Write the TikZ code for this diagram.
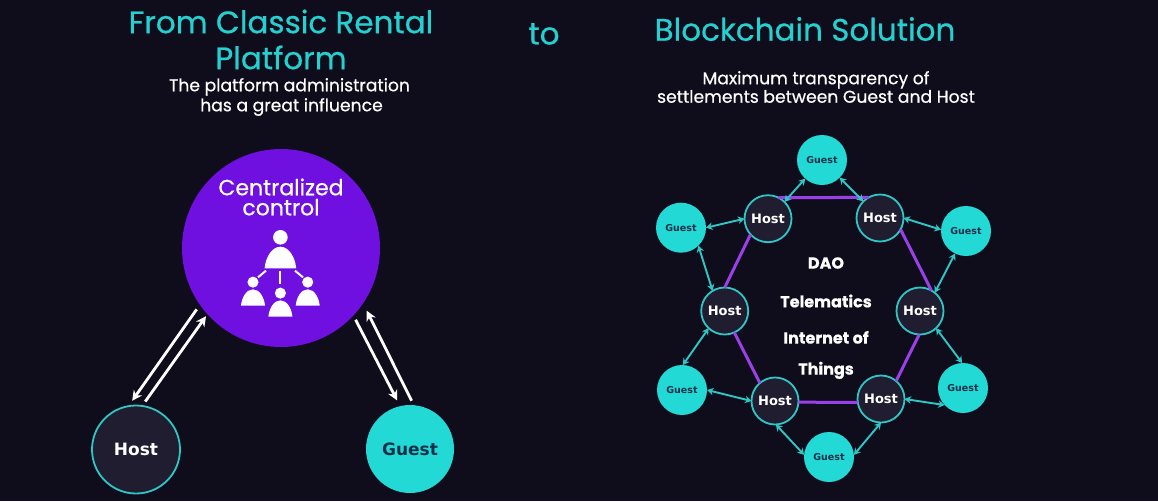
\documentclass[tikz,border=0pt]{standalone}
\usepackage{fontspec}
\setmainfont{Poppins}[FakeBold=0.6]
\newfontfamily\labelfont{DejaVu Sans}
\usetikzlibrary{arrows.meta,calc,positioning}
\definecolor{bgdark}{HTML}{0F0C1B}
\definecolor{tealtxt}{HTML}{24D0D0}
\definecolor{tealfill}{HTML}{22D9D6}
\definecolor{tealline}{HTML}{2FC6C6}
\definecolor{hostfill}{HTML}{211D30}
\definecolor{guesttxt}{HTML}{123048}
\definecolor{ctrlfill}{HTML}{6F0FE0}
\definecolor{linkpurple}{HTML}{9B3FE8}
\tikzset{
  titletxt/.style={text=tealtxt,font=\fontsize{31}{36}\selectfont,align=center,inner sep=0},
  subtxt/.style={text=white,font=\fontsize{17.2}{20}\selectfont,align=center,inner sep=0},
  daotxt/.style={text=white,font=\fontsize{16}{31}\selectfont\bfseries,align=center,inner sep=0},
  hostnode/.style={circle,draw=tealline,fill=hostfill,line width=1.8pt,minimum size=47pt,inner sep=0,outer sep=0,
    text=white,font=\labelfont\fontsize{13}{15}\selectfont\bfseries},
  guestnode/.style={circle,fill=tealfill,minimum size=50pt,inner sep=0,outer sep=0,
    text=guesttxt,font=\labelfont\fontsize{9.5}{11}\selectfont\bfseries},
  bigarrow/.style={white,line width=2.8pt,-{Stealth[length=10pt,width=10pt]}},
  smallarrow/.style={tealline,line width=1.9pt,{Stealth[length=6.5pt,width=7.5pt]}-{Stealth[length=6.5pt,width=7.5pt]}},
  hexlink/.style={linkpurple,line width=3pt}
}
\newcommand{\drawperson}[3]{%
  \begin{scope}[shift={(#1,#2)},scale=#3]
    \fill[white] (0,-31) circle (7.3);
    \fill[white] (-15.8,0) .. controls (-15,-10) and (-9,-21.6) .. (0,-21.6)
      .. controls (9,-21.6) and (15,-10) .. (15.8,0) -- cycle;
  \end{scope}}
\begin{document}
\begin{tikzpicture}[x=1pt,y=-1pt]
            \useasboundingbox (0,0) rectangle (1158,501);
            \fill[bgdark] (0,0) rectangle (1158,501);
            % Headings
            \node[titletxt] (titleleft) at (281,39.5) {From Classic Rental\\Platform};
            \node[titletxt] (titleto) at (544,34) {to};
            \node[titletxt] (titleright) at (805,29) {Blockchain Solution};
            \node[subtxt] (subleft) at (289.5,97) {The platform administration\\\hspace{4pt}has a great influence};
            \node[subtxt,font=\fontsize{17.2}{18.5}\selectfont] (subright) at (816,87) {Maximum transparency of\\settlements between Guest and Host};
            % Left side
            \node[circle,fill=ctrlfill,minimum size=198pt,inner sep=0,outer sep=0] (ctrl) at (281,248) {};
            \node[text=white,font=\fontsize{22}{20}\selectfont,align=center,inner sep=0] (ctrltxt) at (281,197) {Centralized\\control};
            \node[hostnode,minimum size=88pt,font=\labelfont\fontsize{17}{20}\selectfont\bfseries] (host) at (136,449.5) {Host};
            \node[guestnode,minimum size=88pt,font=\labelfont\fontsize{17}{20}\selectfont\bfseries] (guest) at (410,449) {Guest};
            % Icon of the hierarchy
            \drawperson{280.4}{268.3}{1}
            \drawperson{253}{305.7}{0.76}
            \drawperson{280.4}{316.7}{0.76}
            \drawperson{307.7}{305.7}{0.76}
            \draw[white,line width=2pt] (266,270.7) -- (258,277.3);
            \draw[white,line width=2pt] (280.4,270.7) -- (280.4,284.3);
            \draw[white,line width=2pt] (295,270.7) -- (303,277.3);
            % Arrows to and from the centre
            \draw[bigarrow,shorten <=5.6pt,shorten >=6.6pt] (ctrl.215.9) -- (host.100.6);
            \draw[bigarrow,shorten <=5.4pt,shorten >=2.4pt] (host.82.7) -- (ctrl.222.1);
            \draw[bigarrow,shorten <=4.8pt,shorten >=6.4pt] (ctrl.-43.4) -- (guest.103.4);
            \draw[bigarrow,shorten <=4.9pt,shorten >=8.2pt] (guest.85) -- (ctrl.-34.7);
            % Hexagon, under the hosts
            \foreach \name/\x/\y in {hostTL/768/218.7,hostTR/880/218,hostML/724.7/311,hostMR/920/311,hostBL/775/401,hostBR/881/399}
              \node[hostnode] (\name) at (\x,\y) {Host};
            \foreach \name/\x/\y in {guestT/822/160,guestL/681/227.7,guestR/966/231,guestBL/682/390,guestBR/963/388,guestB/829/457}
              \node[guestnode] (\name) at (\x,\y) {Guest};
            \foreach \a/\b in {hostTL.64.4/hostTR.119.3,hostTL.222/hostML.90,hostTR.-29/hostMR.61,hostML.-66/hostBL.130,hostMR.-92/hostBR.50,hostBL.-3/hostBR.188}
              \draw[hexlink] (\a) -- (\b);
            % Guest links
            \foreach \a/\b in {guestT.228/hostTL.46,guestT.-45/hostTR.135,guestL.0/hostTL.180,guestL.-46/hostML.121,
                guestR.177/hostTR.0,guestR.244/hostMR.51,hostML.227/guestBL.88,guestBL.0/hostBL.180,
                hostBL.-88/guestB.175,guestB.5/hostBR.270,hostMR.-47/guestBR.92,guestBR.223/hostBR.0}
              \draw[smallarrow] (\a) -- (\b);
            % Centre labels
            \node[daotxt] (dao) at (826,263) {DAO};
            \node[daotxt] (telematics) at (826,301) {Telematics};
            \node[daotxt] (iot) at (826,355) {Internet of\\Things};
          \end{tikzpicture}
\end{document}
